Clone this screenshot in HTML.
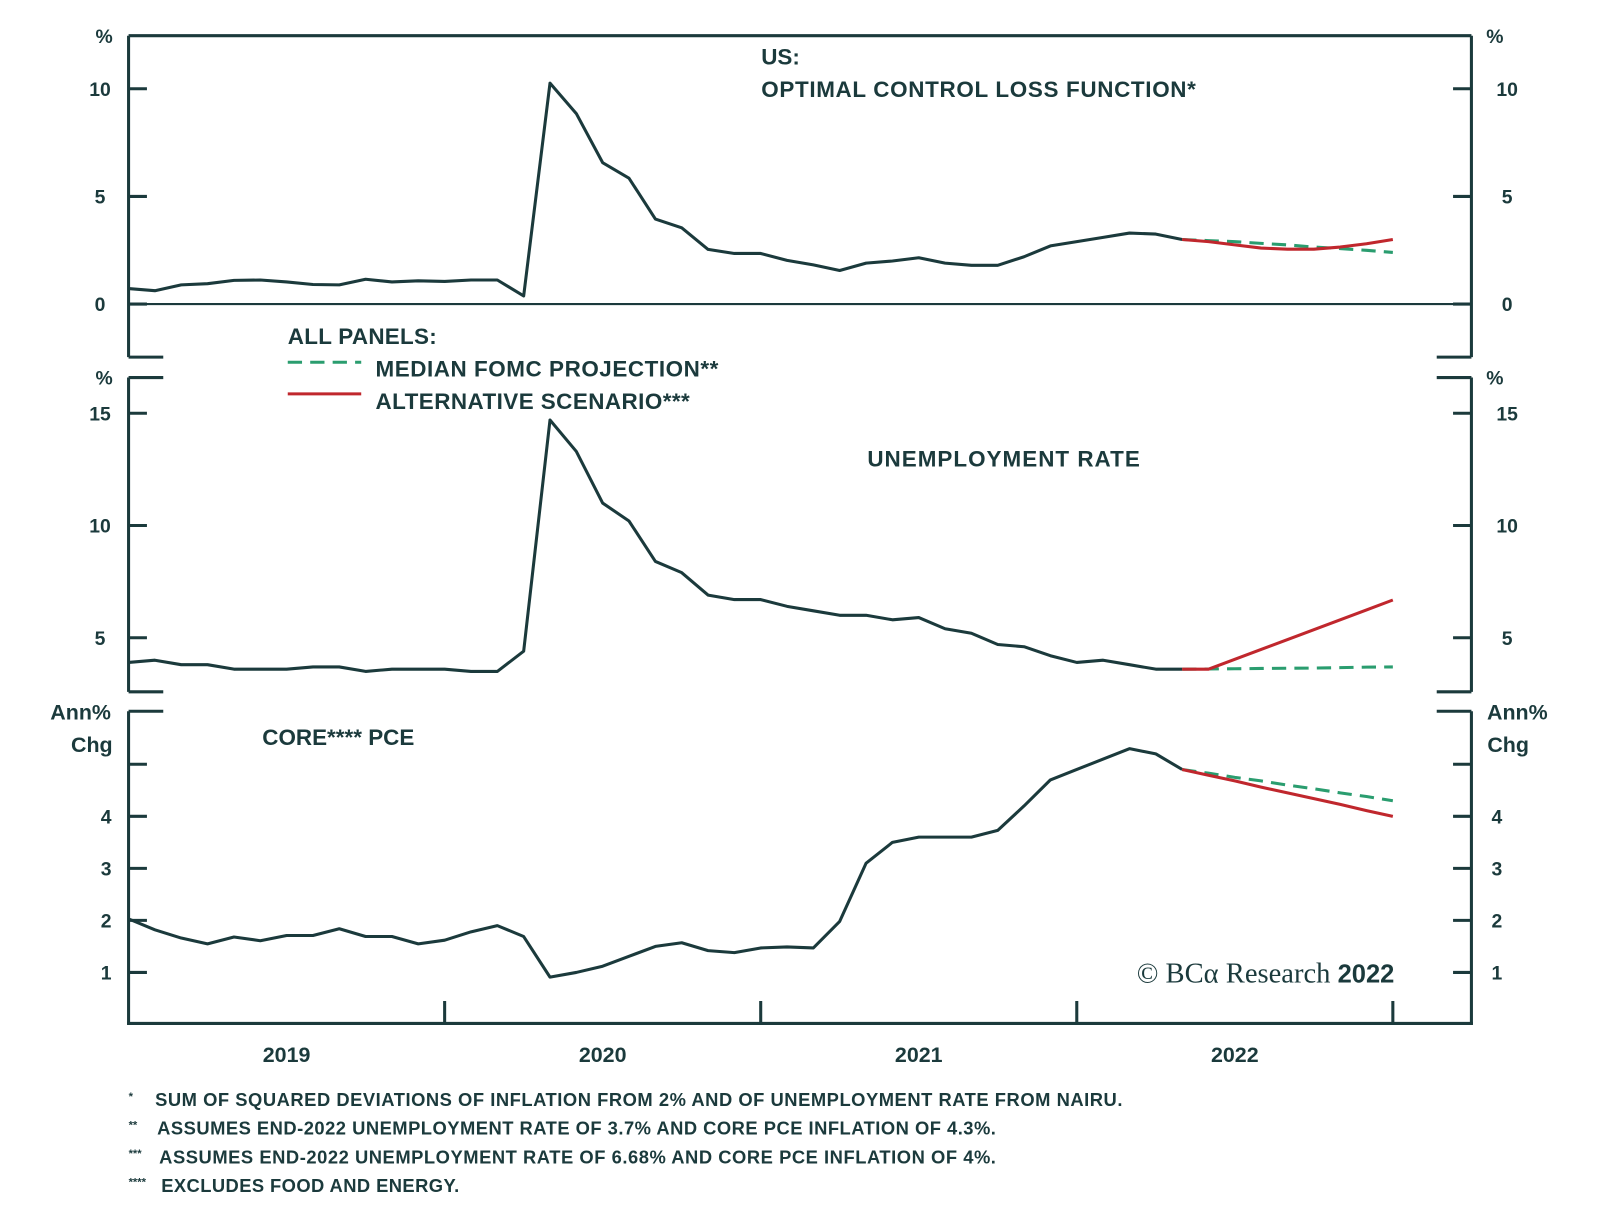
<!DOCTYPE html>
<html><head><meta charset="utf-8">
<style>
html,body{margin:0;padding:0;background:#fff;}
svg{display:block;font-family:"Liberation Sans",sans-serif;}
.t{fill:#1b3a3c;font-weight:bold;}
</style></head>
<body>
<svg id="chart" width="1600" height="1219" viewBox="0 0 1600 1219"><g id="root" transform="scale(1.0204)"></g></svg>
<script>
// ---- data (monthly, Dec 2018 .. Dec 2022) ----
const years = ["2019","2020","2021","2022"];
const lossActual = [0.72,0.62,0.89,0.95,1.1,1.12,1.03,0.91,0.89,1.15,1.03,1.08,1.05,1.12,1.12,0.38,10.26,8.85,6.57,5.85,3.95,3.54,2.54,2.35,2.35,2.03,1.82,1.56,1.9,2.0,2.15,1.9,1.8,1.8,2.2,2.7,2.9,3.1,3.3,3.25,3.0];
const lossFomc = [3.0,2.95,2.9,2.82,2.75,2.65,2.58,2.5,2.4];
const lossAlt = [3.0,2.9,2.75,2.6,2.55,2.55,2.65,2.8,3.0];
const unempActual = [3.9,4.0,3.8,3.8,3.6,3.6,3.6,3.7,3.7,3.5,3.6,3.6,3.6,3.5,3.5,4.4,14.7,13.3,11.0,10.2,8.4,7.9,6.9,6.7,6.7,6.4,6.2,6.0,6.0,5.8,5.9,5.4,5.2,4.7,4.6,4.2,3.9,4.0,3.8,3.6,3.6];
const unempFomc = [3.6,3.61,3.62,3.63,3.64,3.65,3.67,3.69,3.7];
const unempAlt = [3.6,3.6,4.04,4.48,4.92,5.36,5.8,6.24,6.68];
const pceActual = [2.03,1.82,1.66,1.55,1.68,1.61,1.71,1.71,1.84,1.69,1.69,1.55,1.62,1.78,1.9,1.69,0.91,1.0,1.12,1.31,1.5,1.57,1.42,1.38,1.47,1.49,1.47,1.98,3.1,3.5,3.6,3.6,3.6,3.73,4.2,4.7,4.9,5.1,5.3,5.2,4.9];
const pceFomc = [4.9,4.83,4.75,4.68,4.6,4.53,4.45,4.38,4.3];
const pceAlt = [4.9,4.79,4.68,4.56,4.45,4.34,4.23,4.11,4.0];
const ticks1 = [0,5,10];
const ticks2 = [5,10,15];
const ticks3 = [1,2,3,4,5];
const ticks3Labels = ["1","2","3","4",""];

const NS="http://www.w3.org/2000/svg";
const svg=document.getElementById('root');
const DK="#1b3a3c", GR="#2a9d6f", RD="#c0272d";
const L=126,R=1442;
const x=i=>L+i*(1365-L)/48;
function mk(tag,attrs,parent){const e=document.createElementNS(NS,tag);for(const k in attrs)e.setAttribute(k,attrs[k]);(parent||svg).appendChild(e);return e;}
function txt(s,xx,yy,size,anchor,name){const e=mk('text',{x:xx,y:yy,'font-size':size,'text-anchor':anchor||'start',class:'t'});e.textContent=s;


return e;}
function line(x1,y1,x2,y2,name,w){const e=mk('line',{x1,y1,x2,y2,stroke:DK,'stroke-width':w||3});


return e;}
function series(arr,off,ys,color,dash,name){const pts=arr.map((v,i)=>x(i+off).toFixed(1)+","+ys(v).toFixed(1)).join(" ");
const e=mk('polyline',{points:pts,fill:'none',stroke:color,'stroke-width':3,'stroke-linejoin':'round'});
if(dash)e.setAttribute('stroke-dasharray',dash);


return e;}

const y1=v=>298-21.1*v;
const y2=v=>625-22*(v-5);
const y3=v=>1004-51*v;

// panel 1 frame
line(L,35,R,35,'panel1-top-border');
line(L,35,L,350,'panel1-left-axis');
line(R,35,R,350,'panel1-right-axis');
line(L,350,160,350,'panel1-left-stub');
line(1408,350,R,350,'panel1-right-stub');
line(L,298,R,298,'panel1-zero-line',2);
ticks1.forEach(v=>{line(L,y1(v),L+18,y1(v),'panel1-left-tick');line(R-18,y1(v),R,y1(v),'panel1-right-tick');
txt(String(v),98,y1(v)+7,19,'middle','panel1-left-tick-label');txt(String(v),1477,y1(v)+7,19,'middle','panel1-right-tick-label');});
txt('%',102,42,19,'middle','panel1-left-unit');txt('%',1465,42,19,'middle','panel1-right-unit');
txt('US:',746,63,22,'start','chart-title-country');
const t1=txt('OPTIMAL CONTROL LOSS FUNCTION*',746,95,22,'start','panel1-title');t1.setAttribute('textLength',426);

// panel 2 frame
line(L,370,L,678,'panel2-left-axis');
line(R,370,R,678,'panel2-right-axis');
line(L,370,160,370,'panel2-left-top-stub');line(1408,370,R,370,'panel2-right-top-stub');
line(L,678,160,678,'panel2-left-bottom-stub');line(1408,678,R,678,'panel2-right-bottom-stub');
ticks2.forEach(v=>{line(L,y2(v),L+18,y2(v),'panel2-left-tick');line(R-18,y2(v),R,y2(v),'panel2-right-tick');
txt(String(v),98,y2(v)+7,19,'middle','panel2-left-tick-label');txt(String(v),1477,y2(v)+7,19,'middle','panel2-right-tick-label');});
txt('%',102,377,19,'middle','panel2-left-unit');txt('%',1465,377,19,'middle','panel2-right-unit');
const t2=txt('UNEMPLOYMENT RATE',850,457,22,'start','panel2-title');t2.setAttribute('textLength',267);

// legend
const lt=txt('ALL PANELS:',282,337,22,'start','legend-title');lt.setAttribute('textLength',146);
let lg=mk('line',{x1:282,y1:355,x2:354,y2:355,stroke:GR,'stroke-width':3,'stroke-dasharray':'14,8'});

const l1=txt('MEDIAN FOMC PROJECTION**',368,369,22,'start','legend-fomc-label');l1.setAttribute('textLength',336);
lg=mk('line',{x1:282,y1:386,x2:354,y2:386,stroke:RD,'stroke-width':3});

const l2=txt('ALTERNATIVE SCENARIO***',368,401,22,'start','legend-alt-label');l2.setAttribute('textLength',308);

// panel 3 frame
line(L,697,L,1004,'panel3-left-axis');
line(R,697,R,1004,'panel3-right-axis');
line(L,697,160,697,'panel3-left-top-stub');line(1408,697,R,697,'panel3-right-top-stub');
line(L-1.5,1003,R+1.5,1003,'x-axis');
ticks3.forEach((v,i)=>{line(L,y3(v),L+18,y3(v),'panel3-left-tick');line(R-18,y3(v),R,y3(v),'panel3-right-tick');
if(ticks3Labels[i]){txt(ticks3Labels[i],104,y3(v)+7,19,'middle','panel3-left-tick-label');txt(ticks3Labels[i],1467,y3(v)+7,19,'middle','panel3-right-tick-label');}});
txt('Ann%',79,705,21,'middle','panel3-left-unit');txt('Chg',90,737,21,'middle','panel3-left-unit-2');
txt('Ann%',1487,705,21,'middle','panel3-right-unit');txt('Chg',1478,737,21,'middle','panel3-right-unit-2');
txt('CORE**** PCE',257,730,22,'start','panel3-title');
years.forEach((yv,i)=>{const xb=x(12*(i+1));line(xb,981,xb,1003,'x-year-tick');
txt(yv,(x(12*i)+xb)/2,1041,21,'middle','x-tick-label-'+yv);});
const cr=mk('text',{x:1114,y:963,'font-size':28,'text-anchor':'start',fill:DK,'font-family':'Liberation Serif, serif'});
cr.textContent='© BCα Research ';

const cy=mk('tspan',{'font-family':'Liberation Sans, sans-serif','font-weight':'bold','font-size':25},cr);cy.textContent='2022';

// series
series(lossActual,0,y1,DK,null,'loss-actual-line');
series(lossFomc,40,y1,GR,'14,8','loss-fomc-line');
series(lossAlt,40,y1,RD,null,'loss-alt-line');
series(unempActual,0,y2,DK,null,'unemployment-actual-line');
series(unempFomc,40,y2,GR,'14,8','unemployment-fomc-line');
series(unempAlt,40,y2,RD,null,'unemployment-alt-line');
series(pceActual,0,y3,DK,null,'pce-actual-line');
series(pceFomc,40,y3,GR,'14,8','pce-fomc-line');
series(pceAlt,40,y3,RD,null,'pce-alt-line');

// footnotes
const notes=[["*","SUM OF SQUARED DEVIATIONS OF INFLATION FROM 2% AND OF UNEMPLOYMENT RATE FROM NAIRU.",152,948],
["**","ASSUMES END-2022 UNEMPLOYMENT RATE OF 3.7% AND CORE PCE INFLATION OF 4.3%.",154,822],
["***","ASSUMES END-2022 UNEMPLOYMENT RATE OF 6.68% AND CORE PCE INFLATION OF 4%.",156,820],
["****","EXCLUDES FOOD AND ENERGY.",158,292]];
notes.forEach((n,i)=>{const yy=1084+i*28;
const m=mk('text',{x:126,y:yy-6,'font-size':11,class:'t'});m.textContent=n[0];

const t=mk('text',{x:n[2],y:yy,'font-size':18,class:'t',textLength:n[3]});t.textContent=n[1];
});
</script>
</body></html>
